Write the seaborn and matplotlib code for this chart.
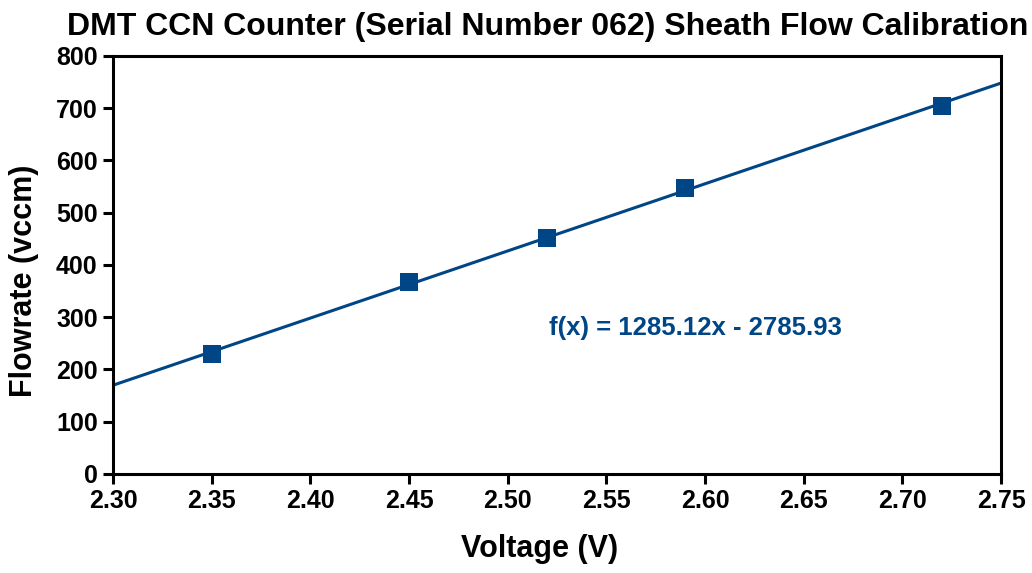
import matplotlib.pyplot as plt
import numpy as np
import seaborn as sns

# calibration points
voltage = [2.35, 2.45, 2.52, 2.59, 2.72]
flowrate = [229, 367, 452, 548, 705]

# linear fit shown on the chart
slope = 1285.12
intercept = -2785.93
x_ticks = [2.30, 2.35, 2.40, 2.45, 2.50, 2.55, 2.60, 2.65, 2.70, 2.75]
y_ticks = [0, 100, 200, 300, 400, 500, 600, 700, 800]

sns.set_style('ticks')
plt.rcParams['font.family'] = ['Liberation Sans', 'DejaVu Sans']
plt.rcParams['font.weight'] = 'bold'
plt.rcParams['text.color'] = 'black'
plt.rcParams['axes.labelcolor'] = 'black'
plt.rcParams['xtick.color'] = 'black'
plt.rcParams['ytick.color'] = 'black'

blue = '#004586'

fig = plt.figure(figsize=(10.32, 5.73), dpi=100)
ax = fig.add_axes([0.1095, 0.1728, 0.8605, 0.7295])

# trend line across the whole x range
fit_x = np.array([x_ticks[0], x_ticks[-1]])
sns.lineplot(x=fit_x, y=slope * fit_x + intercept, ax=ax, color=blue, linewidth=2.2)

sns.scatterplot(x=voltage, y=flowrate, ax=ax, marker='s', s=180, color=blue,
                edgecolor=blue, linewidth=0, zorder=3)

ax.text(2.521, 279, 'f(x) = 1285.12x - 2785.93', color=blue, fontsize=18.5,
        fontweight='bold', va='center', ha='left')

ax.set_xlim(2.30, 2.75)
ax.set_ylim(0, 800)
ax.set_xticks(x_ticks)
ax.set_xticklabels([f'{v:.2f}' for v in x_ticks])
ax.set_yticks(y_ticks)

for spine in ax.spines.values():
    spine.set_linewidth(2.2)
    spine.set_color('black')
ax.tick_params(axis='both', direction='out', length=7, width=2.2, labelsize=18, pad=4)

ax.set_xlabel('Voltage (V)', fontsize=22, fontweight='bold', labelpad=15)
ax.set_ylabel('Flowrate (vccm)', fontsize=22, fontweight='bold', labelpad=12)
ax.xaxis.label.set_x(0.48)
ax.yaxis.label.set_y(0.462)
ax.set_title('DMT CCN Counter (Serial Number 062) Sheath Flow Calibration',
             fontsize=23, fontweight='bold', pad=15, x=0.49)

fig.savefig('out.png', dpi=100)
